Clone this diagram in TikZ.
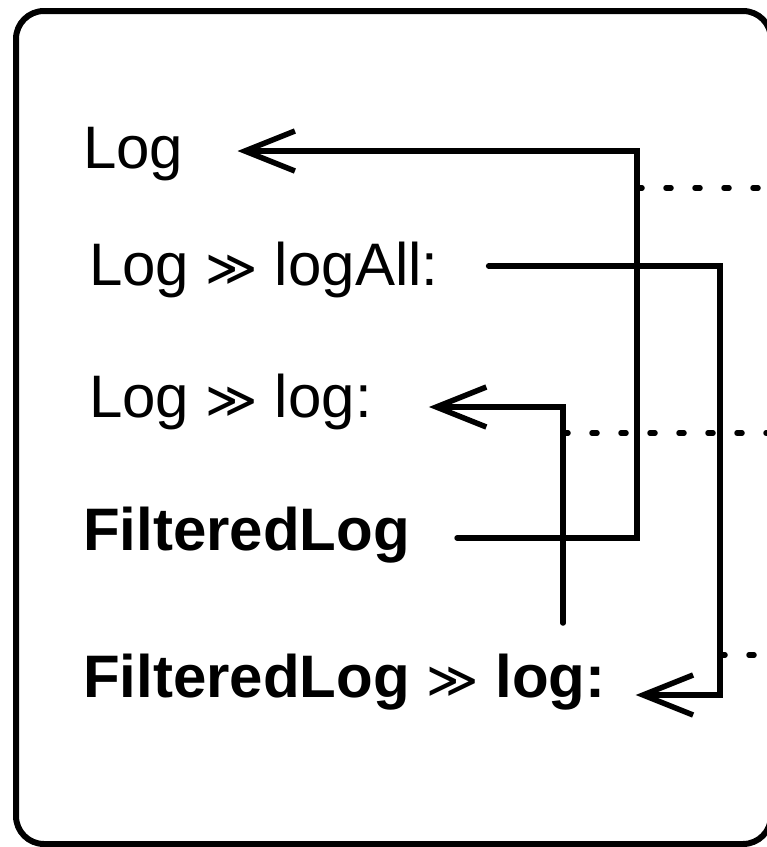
\documentclass[tikz,border=0pt]{standalone}
\usepackage{fontspec}
\setmainfont{Liberation Sans}
\newfontfamily\symfont{DejaVu Sans}
\usetikzlibrary{arrows.meta, positioning, calc}

\newcommand{\gtgt}{{\symfont\fontsize{50}{60}\selectfont ≫}}

\tikzset{
  lbl/.style={anchor=base west, inner sep=0pt, font=\fontsize{60}{72}\selectfont},
  blbl/.style={lbl, font=\fontsize{60}{72}\selectfont\bfseries},
  wire/.style={line width=5.5pt, line cap=round, line join=miter},
  ptr/.style={wire, -{Straight Barb[length=50pt,width=40pt]}},
  dots/.style={line width=5.5pt, line cap=round, dash pattern=on 5pt off 24pt},
  frame/.style={line width=6pt, rounded corners=28pt}
}

\begin{document}
\begin{tikzpicture}[x=1pt, y=-1pt]
\useasboundingbox (0,0) rectangle (767,847);
\draw[frame] (16,11) rectangle (771,844);

%labels
\node[lbl] (log) at (83,168) {Log};
\node[lbl] (logall) at (89,285) {Log \gtgt{} logAll:};
\node[lbl] (loglog) at (89,417) {Log \gtgt{} log:};
\node[blbl] (flog) at (83,550) {FilteredLog};
\node[blbl] (flogdo) at (83,697) {FilteredLog {\mdseries\gtgt} log:};

%rails
\coordinate (r1) at (637,188);
\coordinate (r2) at (720,655);
\coordinate (r3) at (563,433);
\coordinate (stub) at (563,623);

%connections
\draw[ptr] ([shift={(47pt,12pt)}]flog.base east) -| (r1) |- ([shift={(54pt,17pt)}]log.base east);
\draw[ptr] ([shift={(50pt,19pt)}]logall.base east) -| (r2) |- ([shift={(30pt,2pt)}]flogdo.base east);
\draw[ptr] (stub) -- (r3) |- ([shift={(57pt,10pt)}]loglog.base east);

%dotted
\draw[dots] (r1) -- ++(140,0);
\draw[dots] (r3) -- ++(220,0);
\draw[dots] (r2) -- ++(60,0);
\end{tikzpicture}
\end{document}
